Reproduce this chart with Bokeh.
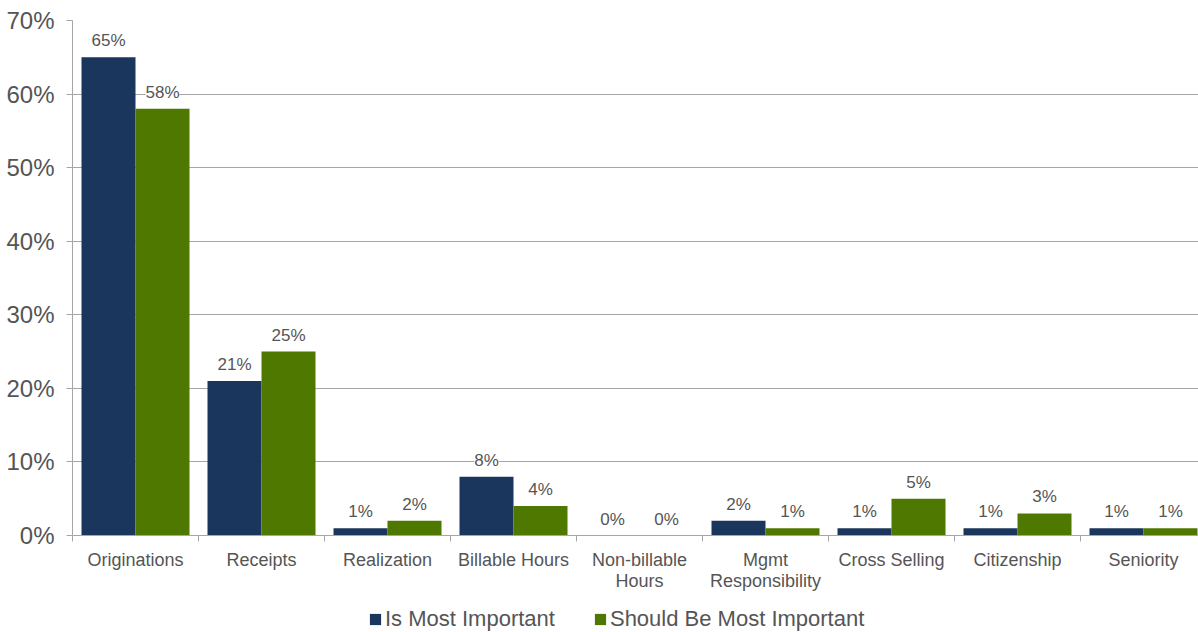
from bokeh.plotting import figure
from bokeh.layouts import column
from bokeh.models import (ColumnDataSource, Range1d, FixedTicker, LabelSet,
                          Legend, LegendItem, PrintfTickFormatter)
from bokeh.core.properties import value
from bokeh.embed import file_html
from bokeh.resources import INLINE

categories = ["Originations", "Receipts", "Realization", "Billable Hours",
              "Non-billable\nHours", "Mgmt\nResponsibility", "Cross Selling",
              "Citizenship", "Seniority"]
is_most = [65, 21, 1, 8, 0, 2, 1, 1, 1]
should_be = [58, 25, 2, 4, 0, 1, 5, 3, 1]
series_names = ["Is Most Important", "Should Be Most Important"]
y_ticks = [0, 10, 20, 30, 40, 50, 60, 70]

BLUE = "#1b365d"
GREEN = "#4f7800"
TEXT = "#555555"
GRID = "#a6a6a6"
FONT = "Liberation Sans"

n = len(categories)
centers = [i + 0.5 for i in range(n)]
off = 0.2143
bw = 0.4286

src_a = ColumnDataSource(dict(x=[c - off for c in centers], y=is_most,
                              lab=[f"{v}%" for v in is_most]))
src_b = ColumnDataSource(dict(x=[c + off for c in centers], y=should_be,
                              lab=[f"{v}%" for v in should_be]))

p = figure(width=1198, height=600, output_backend="svg",
           toolbar_location=None,
           x_range=Range1d(0, 1126 / 126), y_range=Range1d(0, 70),
           min_border_left=72, min_border_right=0, min_border_top=20,
           min_border_bottom=65)
p.outline_line_color = None
p.background_fill_color = "white"

ra = p.vbar(x="x", top="y", width=bw, source=src_a, fill_color=BLUE, line_color=None)
rb = p.vbar(x="x", top="y", width=bw, source=src_b, fill_color=GREEN, line_color=None)

for src in (src_a, src_b):
    p.add_layout(LabelSet(x="x", y="y", text="lab", source=src, y_offset=7,
                          text_align="center", text_baseline="bottom",
                          text_font=value(FONT), text_font_size=value("17px"),
                          text_color=TEXT, background_fill_color="white"))

# y axis
p.yaxis.ticker = FixedTicker(ticks=y_ticks)
p.yaxis.formatter = PrintfTickFormatter(format="%d%%")
p.yaxis.major_label_text_font = FONT
p.yaxis.major_label_text_font_size = "24px"
p.yaxis.major_label_text_color = TEXT
p.yaxis.major_label_standoff = 12
p.yaxis.axis_line_color = GRID
p.yaxis.major_tick_line_color = GRID
p.yaxis.major_tick_out = 6
p.yaxis.major_tick_in = 0
p.yaxis.minor_tick_line_color = None

# x axis
p.xaxis.ticker = FixedTicker(ticks=centers, minor_ticks=list(range(n + 1)))
p.xaxis.major_label_overrides = {c: lab for c, lab in zip(centers, categories)}
p.xaxis.major_label_text_font = FONT
p.xaxis.major_label_text_font_size = "18px"
p.xaxis.major_label_text_line_height = 1.05
p.xaxis.major_label_text_color = TEXT
p.xaxis.major_label_standoff = 8
p.xaxis.axis_line_color = GRID
p.xaxis.major_tick_line_color = None
p.xaxis.minor_tick_line_color = GRID
p.xaxis.minor_tick_out = 6
p.xaxis.minor_tick_in = 0

p.xgrid.grid_line_color = None
p.ygrid.grid_line_color = GRID
p.ygrid.grid_line_width = 1

# legend strip (its frame is aligned with the chart frame by the column layout)
lf = figure(width=1198, height=32, output_backend="svg", toolbar_location=None,
            x_range=Range1d(0, 1126), y_range=Range1d(0, 32),
            min_border=0, x_axis_location=None, y_axis_location=None)
lf.outline_line_color = None
lf.xgrid.visible = False
lf.ygrid.visible = False
la = lf.vbar(x="x", top="y", width=bw, source=src_a, fill_color=BLUE,
             line_color=None, visible=False)
lb = lf.vbar(x="x", top="y", width=bw, source=src_b, fill_color=GREEN,
             line_color=None, visible=False)
legend = Legend(items=[LegendItem(label=series_names[0], renderers=[la]),
                       LegendItem(label=series_names[1], renderers=[lb])],
                orientation="horizontal", location=(296, 0),
                label_text_font=FONT, label_text_font_size="22px",
                label_text_color=TEXT, glyph_width=14, glyph_height=14,
                label_standoff=3, spacing=38, padding=0, margin=0,
                inactive_fill_alpha=0,
                border_line_color=None, background_fill_alpha=0)
lf.add_layout(legend, "center")

layout = column(p, lf, spacing=0)
open("out.html", "w").write(file_html(layout, INLINE))
